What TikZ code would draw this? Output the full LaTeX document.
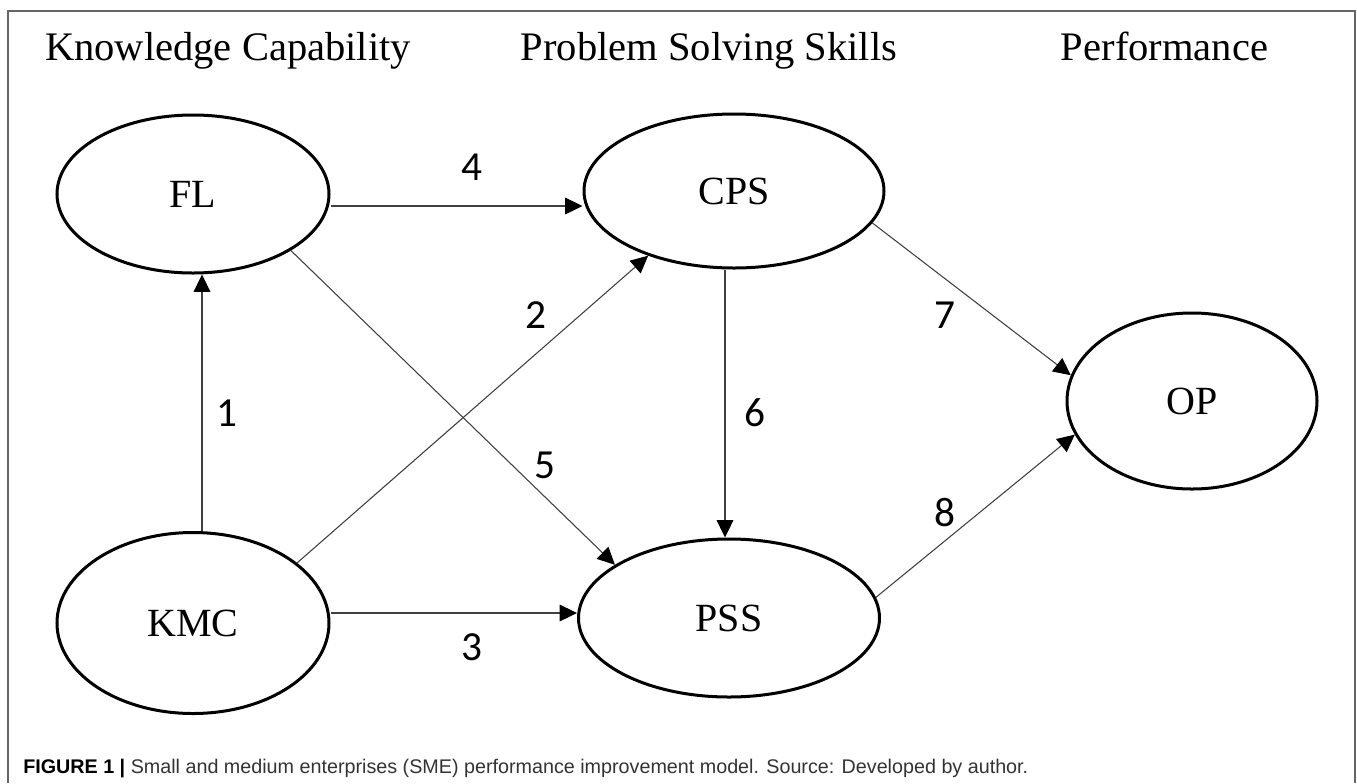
\documentclass[tikz,border=0pt]{standalone}
\usepackage{fontspec}
\setmainfont{Liberation Serif}
\newfontfamily\numfont{Carlito}
\newfontfamily\capfont{Liberation Sans}
\usetikzlibrary{shapes.geometric,arrows.meta,calc}

\begin{document}
\begin{tikzpicture}[x=0.75pt,y=-0.75pt,
  construct/.style={ellipse,draw=black,line width=2.25pt,inner sep=0pt,
    font=\fontsize{30}{30}\selectfont},
  link/.style={draw=black!75,line width=0.8pt,
    -{Triangle[length=13pt,width=12.5pt,color=black]}},
  weight/.style={font=\numfont\fontsize{31}{31}\selectfont,inner sep=0pt},
  heading/.style={font=\fontsize{30.4}{30.4}\selectfont,anchor=base,inner sep=0pt}]

\useasboundingbox (0,0) rectangle (1357,783);

% frame
\draw[black!60,line width=1.3pt] (8,783) -- (8,11) -- (1355,11) -- (1355,783);

% column headings
\node[heading] (hk) at (228,60) {Knowledge Capability};
\node[heading] (hp) at (709,60) {Problem Solving Skills};
\node[heading] (hf) at (1164.5,60) {Performance};

% constructs
\node[construct,minimum width=204pt,minimum height=118.5pt] (fl)  at (193,194) {FL};
\node[construct,minimum width=225pt,minimum height=115.5pt] (cps) at (734,191) {CPS};
\node[construct,minimum width=187.5pt,minimum height=132pt] (op)  at (1192,401) {OP};
\node[construct,minimum width=204pt,minimum height=135.75pt] (kmc) at (193,623) {KMC};
\node[construct,minimum width=225.75pt,minimum height=118.5pt] (pss) at (729,618) {PSS};

% paths
\draw[link] ($(kmc.north)+(9,0)$) -- ($(fl.south)+(9,0)$);
\draw[link] (kmc.30.9) -- (cps.217.6);
\draw[link] ($(kmc.east)+(0,-10)$) -- ($(pss.west)+(0,-5)$);
\draw[link] ($(fl.east)+(0,12)$) -- ($(cps.west)+(0,15)$);
\draw[link] (fl.-30.4) -- (pss.155.1);
\draw[link] ($(cps.south)+(-9,0)$) -- ($(pss.north)+(-4,0)$);
\draw[link] (cps.-13.8) -- (op.168.3);
\draw[link] (pss.8.1) -- (op.196.5);

% path numbers
\node[weight] (w1) at (227,413) {1};
\node[weight] (w2) at (536,315) {2};
\node[weight] (w3) at (472,647) {3};
\node[weight] (w4) at (472,167) {4};
\node[weight] (w5) at (545,465) {5};
\node[weight] (w6) at (755,413) {6};
\node[weight] (w7) at (945,315) {7};
\node[weight] (w8) at (945,513) {8};

% caption
\node[anchor=base west,inner sep=0pt,font=\capfont\fontsize{14.8}{14.8}\selectfont] (caption) at (23,773)
  {\textbf{FIGURE 1 |} {\color{black!80}Small and medium enterprises (SME) performance improvement model. Source: Developed by author.}};
\end{tikzpicture}
\end{document}
